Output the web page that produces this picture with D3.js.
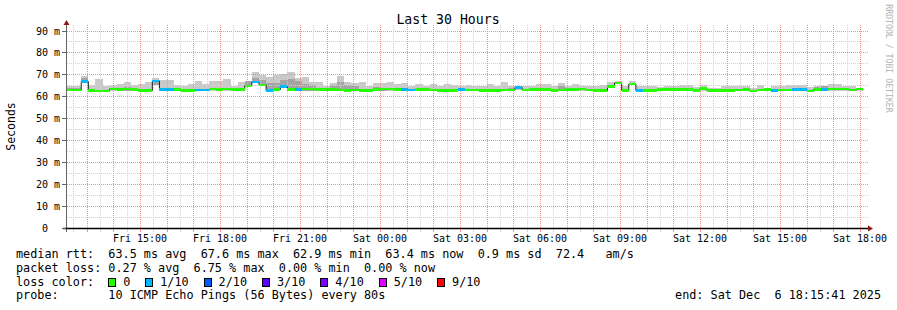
<!DOCTYPE html>
<html><head><meta charset="utf-8">
<script src="https://cdn.jsdelivr.net/npm/d3@7"></script>
<style>
body{margin:0;background:#fff;}
svg text{font-family:"DejaVu Sans Mono",monospace;white-space:pre;}
</style></head><body>
<svg id="c" width="897" height="310"></svg>
<script>
// ---- data (one entry per 16-minute consolidated step) ----
const medianMs = [
62.8,62.8,66.8,62.6,62.5,62.5,63.3,63.0,63.3,63.0,
62.7,62.6,67.0,63.2,63.2,63.0,62.7,62.7,62.8,62.8,
63.3,63.2,63.3,63.2,63.2,64.8,66.5,65.2,62.6,63.0,
64.4,63.0,63.1,63.3,63.3,63.0,63.1,63.2,62.9,62.6,
62.9,62.7,62.6,63.1,63.4,63.3,63.0,63.0,62.9,63.0,
63.2,62.9,62.6,62.6,62.7,63.2,62.9,62.9,62.6,62.6,
62.6,62.9,62.9,64.1,62.9,63.0,63.0,63.0,62.6,62.8,
63.2,63.2,63.3,62.8,62.6,62.6,64.6,66.1,62.7,65.6,
62.6,62.6,62.6,63.0,63.1,63.1,63.1,63.1,62.7,63.5,
62.6,62.6,62.6,62.6,62.8,63.2,62.4,62.9,63.0,62.6,
62.9,62.9,63.0,63.0,62.5,63.1,63.2,63.3,63.3,63.3,
62.8,63.3];
const lossTenths = [
0,0,1,0,0,0,0,0,0,0,
0,0,1,1,1,0,0,0,1,1,
0,0,0,0,0,0,1,0,1,0,
1,0,1,0,0,0,0,0,0,0,
0,0,0,0,0,0,0,1,1,0,
0,0,0,0,0,1,0,0,0,0,
0,0,0,1,0,0,0,0,0,0,
0,0,0,0,0,0,0,0,0,0,
1,0,0,0,0,0,0,0,0,0,
0,0,0,0,0,0,0,0,0,1,
0,0,1,1,0,0,1,0,0,0,
0,0];
const smokeMax = [
64.8,64.8,69.1,65.0,67.7,64.5,65.0,65.8,66.5,65.3,
65.8,66.5,68.3,67.3,67.3,65.0,64.5,65.8,66.8,65.5,
66.8,67.1,67.7,64.5,66.4,67.1,70.9,69.7,69.0,69.7,
70.3,70.9,68.3,68.7,66.7,66.7,64.5,65.9,69.3,66.7,
66.2,66.4,64.5,65.9,65.9,66.4,65.6,65.9,64.8,65.6,
64.5,65.5,64.5,65.6,65.2,64.5,65.2,64.5,64.5,65.6,
64.5,66.4,64.5,64.5,64.5,64.8,65.5,65.5,64.5,65.9,
64.8,65.5,64.5,64.8,64.8,65.2,66.4,66.8,64.8,66.8,
64.5,64.8,64.5,64.2,64.5,64.5,65.2,65.2,64.2,65.2,
64.0,64.0,64.5,64.5,64.5,64.5,64.0,65.2,64.0,64.5,
64.8,65.2,65.2,65.2,64.2,64.5,64.5,65.6,65.6,64.5,
64.5,63.3];
const smokeMid = [
64.0,64.0,68.5,null,null,null,null,null,64.4,null,
null,null,67.5,null,null,null,null,null,null,null,
null,null,null,null,null,67.0,68.5,67.6,66.0,66.0,
67.5,68.0,67.0,65.5,65.3,null,null,65.3,66.4,65.0,
64.5,null,null,64.2,64.0,null,null,null,null,64.0,
null,null,null,null,null,null,null,null,null,null,
null,null,63.8,null,null,null,null,null,null,64.5,
null,null,null,null,null,null,null,null,null,null,
null,null,null,null,null,null,null,null,null,null,
null,null,null,null,null,null,null,null,null,null,
null,null,null,null,null,64.2,64.5,null,null,null,
null,null];
const smokeMin = [
62.3,62.3,66.3,62.3,62.3,62.3,62.3,62.3,62.3,62.3,
62.3,62.3,65.0,62.3,62.3,62.3,62.3,62.3,62.3,62.3,
62.3,62.3,62.3,62.3,62.3,64.3,66.0,64.7,62.3,62.3,
64.0,62.3,62.3,62.3,62.3,62.3,62.3,62.3,62.3,62.3,
62.3,62.3,62.3,62.3,62.3,62.3,62.3,62.3,62.3,62.3,
62.3,62.3,62.3,62.3,62.3,62.3,62.3,62.3,62.3,62.3,
62.3,62.3,62.3,62.7,62.3,62.3,62.3,62.3,62.3,62.3,
62.3,62.3,62.3,62.3,62.3,62.3,64.2,65.7,62.3,65.2,
62.3,62.3,62.3,62.3,62.3,62.3,62.3,62.3,62.3,62.3,
62.3,62.3,62.3,62.3,62.3,62.3,62.3,62.3,62.3,62.3,
62.3,62.3,62.3,62.3,62.3,62.3,62.3,62.3,62.3,62.3,
62.3,62.3];
const yTickValues = [0,10,20,30,40,50,60,70,80,90];
const yTickLabels = ["0  ","10 m","20 m","30 m","40 m","50 m","60 m","70 m","80 m","90 m"];
const xTickLabels = ["Fri 15:00","Fri 18:00","Fri 21:00","Sat 00:00","Sat 03:00","Sat 06:00","Sat 09:00","Sat 12:00","Sat 15:00","Sat 18:00"];
const lossLevels = [0,1,2,3,4,5,9];
const lossLabels = ["0","1/10","2/10","3/10","4/10","5/10","9/10"];
const lossColors = ["#26ff00","#00b8ff","#0059ff","#5e00ff","#7e00ff","#dd00ff","#ff0000"];
const titleText = "Last 30 Hours";
const yAxisTitle = "Seconds";
const statsLines = [
  "median rtt:  63.5 ms avg  67.6 ms max  62.9 ms min  63.4 ms now  0.9 ms sd  72.4   am/s",
  "packet loss: 0.27 % avg  6.75 % max  0.00 % min  0.00 % now",
  "loss color:",
  "probe:       10 ICMP Echo Pings (56 Bytes) every 80s"
];
const endText = "end: Sat Dec  6 18:15:41 2025";
const watermark = "RRDTOOL / TOBI OETIKER";
const endTime = new Date(2025, 11, 6, 18, 15, 41);
const spanHours = 30;
const stepMinutes = 16;

// ---- layout ----
const svg = d3.select("#c");
const X0 = 67, X1 = 867, Y0 = 228, YTOP = 25;
const startTime = new Date(endTime.getTime() - spanHours*3600e3);
const x = d3.scaleTime().domain([startTime, endTime]).range([X0, X1]);
const y = d3.scaleLinear().domain([0, 90]).range([Y0, 30.5]);
const stepT = i => new Date(startTime.getTime() + i*stepMinutes*60e3);
const GRID_MAJOR = "#ff8a8a", GRID_MINOR = "#d2d2d2";

svg.append("rect").attr("width",897).attr("height",310).attr("fill","#fff");

// smoke
const smoke = svg.append("g").attr("shape-rendering","crispEdges");
medianMs.forEach((m,i)=>{
  const xa = x(stepT(i)), xb = x(stepT(i+1));
  smoke.append("rect").attr("x",xa).attr("width",xb-xa)
    .attr("y",y(smokeMax[i])).attr("height",y(smokeMin[i])-y(smokeMax[i]))
    .attr("fill","#c9c9c9");
  if (smokeMid[i] != null) {
    smoke.append("rect").attr("x",xa).attr("width",xb-xa)
      .attr("y",y(smokeMid[i])).attr("height",y(smokeMin[i])-y(smokeMid[i]))
      .attr("fill","#a4a4a4");
  }
});

// grid
const grid = svg.append("g").attr("shape-rendering","crispEdges");
const minorY = d3.range(5, 90, 10);
minorY.forEach(v=>grid.append("line").attr("x1",X0).attr("x2",X1+1).attr("y1",Math.round(y(v))+0.5).attr("y2",Math.round(y(v))+0.5)
  .attr("stroke",GRID_MINOR).attr("stroke-dasharray","1,1"));
yTickValues.filter(v=>v>0).forEach(v=>grid.append("line").attr("x1",X0).attr("x2",X1+1).attr("y1",Math.round(y(v))+0.5).attr("y2",Math.round(y(v))+0.5)
  .attr("stroke",GRID_MAJOR).attr("stroke-dasharray","1,1"));
const halfHours = d3.timeMinute.every(30).range(startTime, endTime).filter(d=>d.getMinutes()===30);
const hours = d3.timeHour.range(startTime, endTime);
halfHours.forEach(d=>{
  const xx = Math.round(x(d))+0.5;
  grid.append("line").attr("x1",xx).attr("x2",xx).attr("y1",YTOP).attr("y2",Y0).attr("stroke",GRID_MINOR).attr("stroke-dasharray","1,1");
  grid.append("line").attr("x1",xx).attr("x2",xx).attr("y1",Y0+1).attr("y2",Y0+4).attr("stroke",GRID_MINOR);
});
hours.forEach(d=>{
  const xx = Math.round(x(d))+0.5;
  grid.append("line").attr("x1",xx).attr("x2",xx).attr("y1",YTOP).attr("y2",Y0).attr("stroke",GRID_MAJOR).attr("stroke-dasharray","1,1");
  grid.append("line").attr("x1",xx).attr("x2",xx).attr("y1",Y0+1).attr("y2",Y0+4).attr("stroke",GRID_MAJOR);
});

// median line (dark) + loss-coloured bands
const pts = medianMs.map((m,i)=>[x(stepT(i)), y(m)]);
pts.push([x(stepT(medianMs.length)), y(medianMs[medianMs.length-1])]);
svg.append("path").attr("d", d3.line().curve(d3.curveStepAfter)(pts))
  .attr("fill","none").attr("stroke","#202020").attr("stroke-width",1);
const lossColor = d3.scaleOrdinal().domain(lossLevels).range(lossColors);
const bands = svg.append("g").attr("shape-rendering","crispEdges");
medianMs.forEach((m,i)=>{
  const xa = x(stepT(i)), xb = x(stepT(i+1));
  bands.append("rect").attr("x",xa).attr("width",xb-xa)
    .attr("y",y(m)-1.3).attr("height",2.6).attr("fill",lossColor(lossTenths[i]));
});

// axes
const ax = svg.append("g");
ax.append("line").attr("x1",66.5).attr("x2",66.5).attr("y1",Y0+4).attr("y2",YTOP-1).attr("stroke","#666");
ax.append("path").attr("d",`M63.5,${YTOP} L69.5,${YTOP} L66.5,${YTOP-5} Z`).attr("fill","#8b1a1a");
ax.append("line").attr("x1",63).attr("x2",869).attr("y1",Y0+0.5).attr("y2",Y0+0.5).attr("stroke","#000").attr("stroke-width",1.3);
ax.append("path").attr("d",`M868,${Y0-2.5} L868,${Y0+3.5} L873,${Y0+0.5} Z`).attr("fill","#8b1a1a");
yTickValues.forEach((v,k)=>{
  const yy = Math.round(y(v))+0.5;
  ax.append("line").attr("x1",62).attr("x2",66).attr("y1",yy).attr("y2",yy).attr("stroke","#666");
  ax.append("text").attr("x",60).attr("y",yy+3.5).attr("text-anchor","end")
    .attr("font-size","10px").attr("fill","#000").text(yTickLabels[k]);
});
xTickLabels.forEach((lab,k)=>{
  const t = new Date(2025, 11, 5, 15 + 3*k);
  ax.append("text").attr("x",x(t)).attr("y",241.5).attr("text-anchor","middle")
    .attr("font-size","10px").attr("fill","#000").text(lab);
});

// titles
svg.append("text").attr("x",448).attr("y",24).attr("text-anchor","middle")
  .attr("font-size","13.2px").attr("fill","#000").text(titleText);
svg.append("text").attr("transform","translate(15,126.5) rotate(-90)").attr("text-anchor","middle")
  .attr("font-size","11.5px").attr("fill","#000").text(yAxisTitle);
svg.append("text").attr("transform","translate(885.5,58.5) rotate(90)").attr("text-anchor","middle")
  .attr("font-size","8.2px").attr("fill","#b4b4b4").text(watermark);

// legend
const rowY = [258, 271.7, 285.5, 299.3];
statsLines.forEach((s,k)=>svg.append("text").attr("x",16).attr("y",rowY[k])
  .attr("font-size","11.8px").attr("fill","#000").text(s));
const cw = 7.09;
let lx = 16 + 13*cw;
lossLabels.forEach((lab,k)=>{
  svg.append("rect").attr("x",Math.round(lx)+0.5).attr("y",278.5).attr("width",7).attr("height",8)
    .attr("fill",lossColors[k]).attr("stroke","#000").attr("stroke-width",1);
  svg.append("text").attr("x",lx+15).attr("y",rowY[2]).attr("font-size","11.8px").attr("fill","#000").text(lab);
  lx = lx + 15 + lab.length*cw + 15;
});
svg.append("text").attr("x",881).attr("y",rowY[3]).attr("text-anchor","end")
  .attr("font-size","11.8px").attr("fill","#000").text(endText);
</script></body></html>
